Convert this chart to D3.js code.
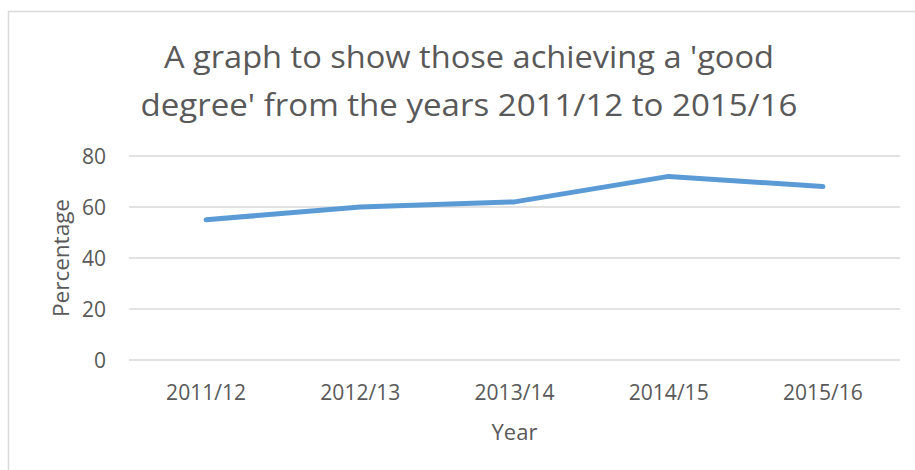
<!DOCTYPE html>
<html>
<head>
<meta charset="utf-8">
<script src="https://cdn.jsdelivr.net/npm/d3@7"></script>
<style>
  html, body { margin: 0; padding: 0; background: #fff; }
  svg { display: block; }
  text { font-family: "Open Sans", "Noto Sans", sans-serif; fill: #595959; }
</style>
</head>
<body>
<svg id="chart" width="915" height="470"></svg>
<script>
const categories = ["2011/12", "2012/13", "2013/14", "2014/15", "2015/16"];
const values = [55, 60, 62, 72, 68];
const yTicks = [0, 20, 40, 60, 80];
const titleLines = ["A graph to show those achieving a 'good", "degree' from the years 2011/12 to 2015/16"];
const xTitle = "Year";
const yTitle = "Percentage";

const svg = d3.select("#chart");
const W = 915, H = 470;
const plot = { left: 129, right: 900, top: 156, bottom: 360 };

// chart frame
svg.append("rect")
  .attr("x", 8.5).attr("y", 11.5)
  .attr("width", W + 10).attr("height", H + 10)
  .attr("fill", "#fff").attr("stroke", "#d9d9d9").attr("stroke-width", 1.5);

const x = d3.scaleBand().domain(categories).range([plot.left, plot.right]).padding(0);
const y = d3.scaleLinear().domain([0, 80]).range([plot.bottom, plot.top]);

// gridlines
svg.append("g").selectAll("line").data(yTicks).join("line")
  .attr("x1", plot.left).attr("x2", plot.right)
  .attr("y1", d => y(d)).attr("y2", d => y(d))
  .attr("stroke", "#d9d9d9").attr("stroke-width", 1.5);

// y axis labels
const yAxis = d3.axisLeft(y).tickValues(yTicks).tickSize(0).tickPadding(0);
const gy = svg.append("g").attr("transform", `translate(${plot.left - 23},0)`).call(yAxis);
gy.select(".domain").remove();
gy.selectAll("text").attr("font-size", 21).attr("fill", "#595959")
  .style("font-family", '"Open Sans", sans-serif').attr("dy", "0.36em");

// x axis labels
const xAxis = d3.axisBottom(x).tickSize(0).tickPadding(0);
const gx = svg.append("g").attr("transform", `translate(0,${plot.bottom})`).call(xAxis);
gx.select(".domain").remove();
gx.selectAll("text").attr("font-size", 21).attr("fill", "#595959")
  .style("font-family", '"Open Sans", sans-serif').attr("y", 39.5).attr("dy", 0)
  .attr("textLength", 80).attr("lengthAdjust", "spacingAndGlyphs");

// line
const line = d3.line().x((d, i) => x(categories[i]) + x.bandwidth() / 2).y(d => y(d));
svg.append("path").datum(values)
  .attr("d", line)
  .attr("fill", "none").attr("stroke", "#5b9bd5")
  .attr("stroke-width", 5).attr("stroke-linecap", "round").attr("stroke-linejoin", "round");

// title
const titleWidths = [610, 657];
const titleY = [68, 116];
svg.append("g").selectAll("text").data(titleLines).join("text")
  .attr("x", 469).attr("y", (d, i) => titleY[i])
  .attr("text-anchor", "middle").attr("font-size", 31.5)
  .attr("textLength", (d, i) => titleWidths[i]).attr("lengthAdjust", "spacingAndGlyphs")
  .text(d => d);

// axis titles
svg.append("text").attr("x", (plot.left + plot.right) / 2).attr("y", 440)
  .attr("text-anchor", "middle").attr("font-size", 22).text(xTitle);
svg.append("text").attr("transform", `translate(69,258) rotate(-90)`)
  .attr("text-anchor", "middle").attr("font-size", 22)
  .attr("textLength", 118).attr("lengthAdjust", "spacingAndGlyphs").text(yTitle);
</script>
</body>
</html>
